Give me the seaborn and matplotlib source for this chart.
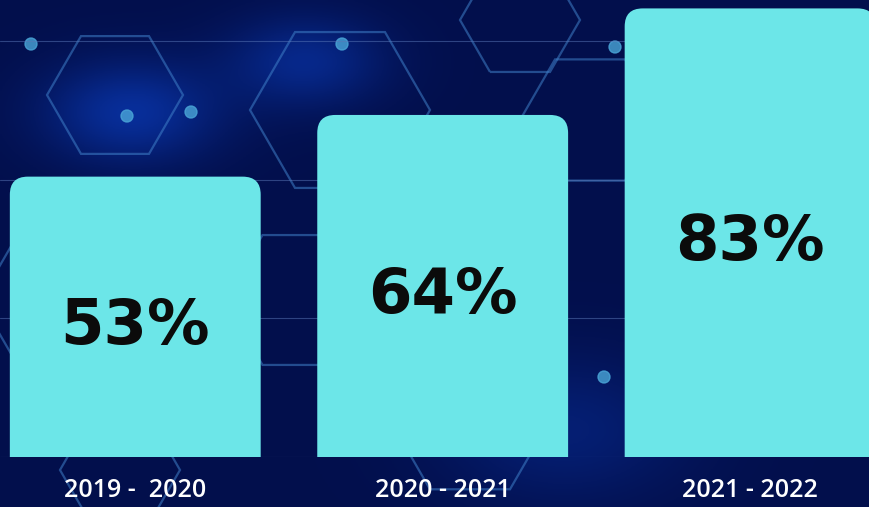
import numpy as np
import matplotlib
matplotlib.use("Agg")
import matplotlib.pyplot as plt
import seaborn as sns
from matplotlib.patches import FancyBboxPatch, RegularPolygon, Circle

periods = ["2019 -  2020", "2020 - 2021", "2021 - 2022"]
shares = [53, 64, 83]
labels = ["53%", "64%", "83%"]

sns.set_theme(style="white")
plt.rcParams["font.family"] = ["Open Sans", "DejaVu Sans"]

fig = plt.figure(figsize=(8.7, 5.07), dpi=100)

# background: dark navy with soft glows, a few hexagons and dots
bg = fig.add_axes([0, 0, 1, 1])
yy, xx = np.mgrid[0:1:200j, 0:1:340j]
glow = (np.exp(-((xx - 0.15) ** 2 + (yy - 0.22) ** 2) / 0.01)
        + 0.8 * np.exp(-((xx - 0.35) ** 2 + (yy - 0.12) ** 2) / 0.008)
        + 0.5 * np.exp(-((xx - 0.65) ** 2 + (yy - 0.85) ** 2) / 0.02))
img = np.zeros((200, 340, 3))
img[..., 0] = 0.01 + 0.02 * glow
img[..., 1] = 0.06 + 0.12 * glow
img[..., 2] = 0.30 + 0.30 * glow
bg.imshow(np.clip(img, 0, 1), extent=[0, 870, 507, 0], aspect="auto")
for cx, cy, r in [(115, 95, 68), (340, 110, 90), (590, 120, 70), (60, 300, 80), (300, 300, 75),
                  (520, 20, 60), (840, 230, 70), (120, 470, 60), (470, 420, 80)]:
    bg.add_patch(RegularPolygon((cx, cy), 6, radius=r, orientation=np.pi / 6,
                                fill=False, ec="#3f7fc8", lw=1.6, alpha=0.55))
for cx, cy in [(31, 44), (127, 116), (191, 112), (342, 44), (604, 377), (615, 47)]:
    bg.add_patch(Circle((cx, cy), 6, color="#4aa6d8", alpha=0.8))
bg.set_xlim(0, 870)
bg.set_ylim(507, 0)
bg.axis("off")

ax = fig.add_axes([0, 50 / 507, 1, 457 / 507])
ax.patch.set_alpha(0)
sns.barplot(x=periods, y=shares, color="#6ce6e8", width=0.816, ax=ax, saturation=1)

ymin, ymax = 3, 84.5
ax.set_xlim(-0.44, 2.39)
ax.set_ylim(ymin, ymax)

# faint horizontal guide lines
for frac in [0, 138.7 / 457, 277.4 / 457, 416 / 457]:
    ax.axhline(ymin + (ymax - ymin) * frac, color="#5a78b8", lw=0.8, alpha=0.5, zorder=0)

# rounded tops
xpx = 2.83 / 870
ypx = (ymax - ymin) / 457
for p in list(ax.patches):
    x0, w, h = p.get_x(), p.get_width(), p.get_height()
    p.remove()
    ax.add_patch(FancyBboxPatch((x0, -20), w, h + 20,
                                boxstyle=f"round,pad=0,rounding_size={18 * xpx}",
                                mutation_aspect=ypx / xpx, fc="#6ce6e8", ec="none", zorder=2))

for i, (v, lab) in enumerate(zip(shares, labels)):
    ax.text(i, (v + ymin) / 2 - 1.8, lab, ha="center", va="center", fontsize=45,
            fontweight="bold", color="#0b0b0b", zorder=3, family=["DejaVu Sans"])

ax.set_yticks([])
ax.tick_params(axis="x", length=0, pad=15, labelsize=18, labelcolor="white")
for t in ax.get_xticklabels():
    t.set_fontweight("semibold")
for s in ax.spines.values():
    s.set_visible(False)
ax.set_xlabel("")
ax.set_ylabel("")

fig.savefig("out.png", dpi=100)
